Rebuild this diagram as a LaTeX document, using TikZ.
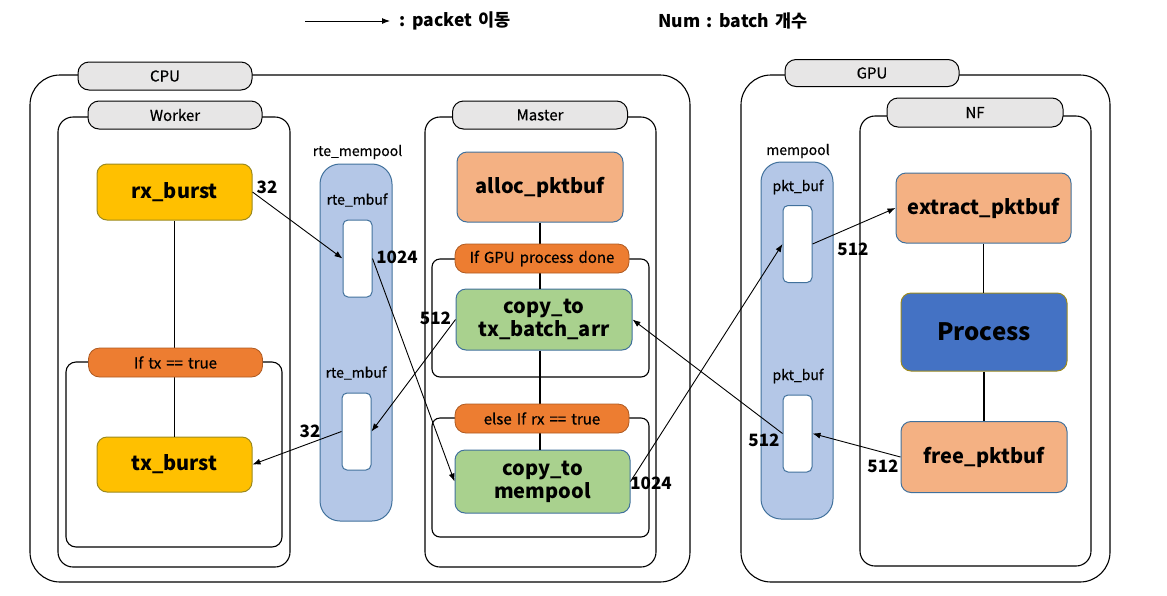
\documentclass[tikz,border=0pt]{standalone}
\usepackage{fontspec}
\setmainfont{Noto Sans CJK KR}
\newfontfamily\medfont{Noto Sans CJK KR}[FakeBold=0.6]
\newcommand\widespacing{\spaceskip=0.34em\relax}
\usetikzlibrary{arrows.meta}
\definecolor{lgray}{HTML}{E7E6E6}
\definecolor{condfill}{HTML}{ED7D31}
\definecolor{conddraw}{HTML}{AE5A21}
\definecolor{yfill}{HTML}{FFC000}
\definecolor{ydraw}{HTML}{9C8A1E}
\definecolor{peach}{HTML}{F4B183}
\definecolor{gfill}{HTML}{A9D18E}
\definecolor{bdraw}{HTML}{41719C}
\definecolor{lblue}{HTML}{B4C7E7}
\definecolor{pfill}{HTML}{4472C4}
\tikzset{
  frame/.style={draw=black, line width=1.1pt},
  pill/.style={draw=black, fill=lgray, line width=1pt, rounded corners=11pt, inner sep=0pt,
    font=\medfont\fontsize{15}{17}\selectfont},
  cond/.style={draw=conddraw, fill=condfill, line width=0.8pt, rounded corners=11pt, inner sep=0pt,
    minimum width=174pt, minimum height=29pt, font=\medfont\fontsize{15}{17}\selectfont},
  func/.style={line width=1pt, rounded corners=10pt, inner sep=0pt, align=center,
    font=\fontsize{20}{25}\selectfont\bfseries},
  column/.style={draw=bdraw, fill=lblue, line width=1pt, rounded corners=20pt, inner sep=0pt,
    minimum width=72pt, minimum height=357pt},
  slot/.style={draw=bdraw, fill=white, line width=1pt, rounded corners=5pt, inner sep=0pt,
    minimum width=29pt, minimum height=77pt},
  captxt/.style={font=\medfont\fontsize{14}{16}\selectfont},
  num/.style={font=\fontsize{17}{19}\selectfont\bfseries},
  legtxt/.style={anchor=west, inner sep=0pt, font=\fontsize{17.5}{19}\selectfont\bfseries},
  link/.style={line width=1.8pt},
  flow/.style={line width=0.9pt, -{Latex[length=8pt,width=6pt]}},
}
\begin{document}
\begin{tikzpicture}[x=1pt,y=-1pt]
\useasboundingbox (0,0) rectangle (1167,595);
% legend
\coordinate (la) at (305,21);
\coordinate (lb) at (390,21);
\draw[flow] (la) -- (lb);
\node[legtxt] (leg1) at (399,21) {\widespacing : packet 이동};
\node[legtxt] (leg2) at (658,21) {\widespacing Num : batch 개수};
% containers
\draw[frame, rounded corners=30pt] (30,75) rectangle (690,582);
\draw[frame, rounded corners=15pt] (58,117) rectangle (290,567);
\draw[frame, rounded corners=10pt] (66,362) rectangle (282,547);
\draw[frame, rounded corners=15pt] (425,117) rectangle (656,567);
\draw[frame, rounded corners=8pt] (432,259) rectangle (649,377);
\draw[frame, rounded corners=8pt] (432,418) rectangle (649,537);
\draw[frame, rounded corners=30pt] (741,75) rectangle (1110,582);
\draw[frame, rounded corners=15pt] (860,116) rectangle (1091,566);
% header pills
\node[pill, minimum width=174pt, minimum height=28pt] (cpu) at (165,76) {CPU};
\node[pill, minimum width=174pt, minimum height=28pt] (worker) at (175,115) {Worker};
\node[pill, minimum width=175pt, minimum height=28pt] (master) at (540,115) {Master};
\node[pill, minimum width=174pt, minimum height=27pt] (gpu) at (872,73) {GPU};
\node[pill, minimum width=176pt, minimum height=29pt] (nf) at (975,112.5) {NF};
% mempools
\node[column] (rtepool) at (356,342.5) {};
\node[captxt] (rtepoollbl) at (357.5,152) {rte\_mempool};
\node[captxt] (mbuflbl1) at (357,200) {rte\_mbuf};
\node[captxt] (mbuflbl2) at (356,373) {rte\_mbuf};
\node[slot] (slot1) at (357.5,258.5) {};
\node[slot] (slot2) at (356.5,431.5) {};
\node[column] (gpupool) at (797,340.5) {};
\node[captxt] (gpupoollbl) at (798,151) {mempool};
\node[captxt] (pktlbl1) at (798,187) {pkt\_buf};
\node[captxt] (pktlbl2) at (798,376) {pkt\_buf};
\node[slot] (pslot1) at (797.5,244) {};
\node[slot] (pslot2) at (797.5,433.5) {};
% function boxes
\node[func, draw=ydraw, fill=yfill, minimum width=155pt, minimum height=56pt] (rx) at (174.5,192) {rx\_burst};
\node[func, draw=ydraw, fill=yfill, minimum width=155pt, minimum height=55pt] (tx) at (174.5,464.5) {tx\_burst};
\node[func, draw=bdraw, fill=peach, minimum width=166pt, minimum height=70pt] (alloc) at (540,187) {alloc\_pktbuf};
\node[func, draw=bdraw, fill=gfill, minimum width=176pt, minimum height=61pt] (copytx) at (544,319.5) {copy\_to\\[-2pt]tx\_batch\_arr};
\node[func, draw=bdraw, fill=gfill, minimum width=175pt, minimum height=63pt] (copymem) at (542.5,481.5) {copy\_to\\[-2pt]mempool};
\node[func, draw=bdraw, fill=peach, minimum width=175pt, minimum height=70pt] (extract) at (983.5,208) {extract\_pktbuf};
\node[func, draw=ydraw, fill=pfill, minimum width=166pt, minimum height=78pt, font=\fontsize{24}{28}\selectfont\bfseries] (process) at (984,332) {Process};
\node[func, draw=bdraw, fill=peach, minimum width=166pt, minimum height=71pt] (free) at (984,457) {free\_pktbuf};
% vertical links (behind condition pills)
\draw[link] (rx.south) -- (rx.south |- tx.north);
\draw[link] (alloc.south) -- (alloc.south |- copytx.north);
\draw[link] (copytx.south -| alloc.south) -- (alloc.south |- copymem.north);
\draw[link] (extract.south) -- (extract.south |- process.north);
\draw[link] (process.south) -- (process.south |- free.north);
% condition pills
\node[cond] (iftx) at (175.5,362.5) {\widespacing If tx == true};
\node[cond] (ifgpu) at (542,258.5) {\widespacing If GPU process done};
\node[cond] (elseif) at (542,418.5) {\widespacing else If rx == true};
% packet arrows
\draw[flow] (rx.east) -- (slot1.west);
\draw[flow] (slot1.east) -- (copymem.west);
\draw[flow] (copytx.west) -- (slot2.east);
\draw[flow] (slot2.west) -- (tx.east);
\draw[flow] (copymem.east) -- (pslot1.west);
\draw[flow] (pslot1.east) -- (extract.west);
\draw[flow] (free.west) -- (pslot2.east);
\draw[flow] (pslot2.west) -- (copytx.east);
% batch numbers
\node[num] (n1) at (267,187) {32};
\node[num] (n2) at (397,257) {1024};
\node[num] (n3) at (435.5,318) {512};
\node[num] (n4) at (310,431.5) {32};
\node[num] (n5) at (651,483.5) {1024};
\node[num] (n6) at (853,249) {512};
\node[num] (n7) at (883,466.5) {512};
\node[num] (n8) at (764,440) {512};
\end{tikzpicture}
\end{document}
